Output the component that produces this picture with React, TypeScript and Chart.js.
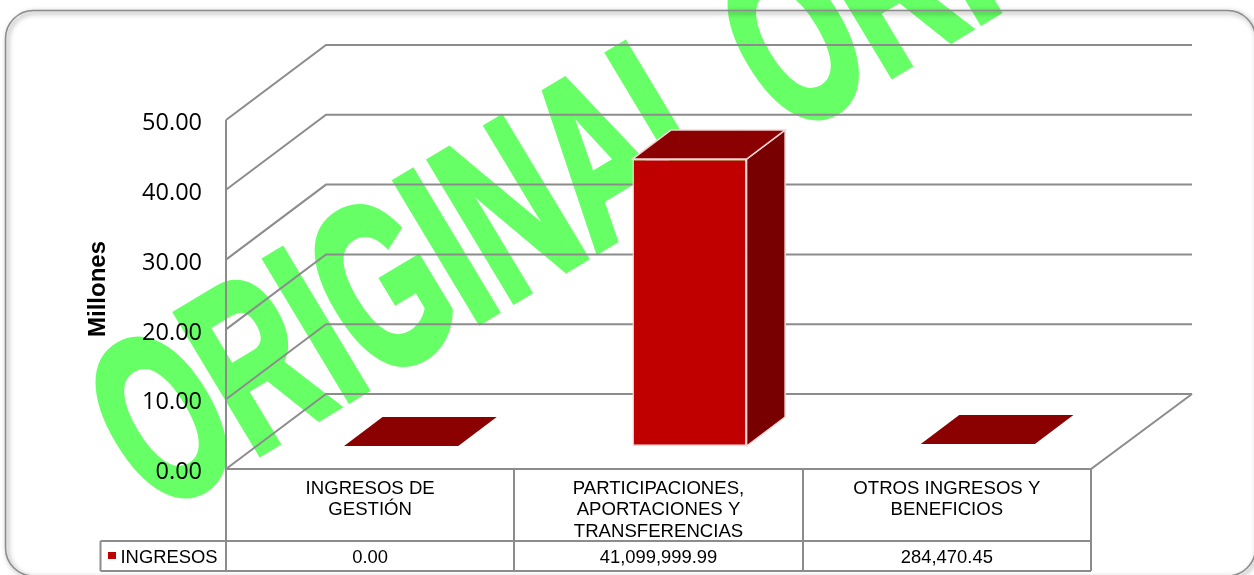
import React, { useEffect, useRef } from "react";
import { Chart, registerables } from "chart.js";

Chart.register(...registerables);

const categories = [
  ["INGRESOS DE", "GESTIÓN"],
  ["PARTICIPACIONES,", "APORTACIONES Y", "TRANSFERENCIAS"],
  ["OTROS INGRESOS Y", "BENEFICIOS"],
];
const seriesName = "INGRESOS";
const ingresosMillones = [0, 41.09999999, 0.28447045];
const tableValues = ["0.00", "41,099,999.99", "284,470.45"];
const axisTitle = "Millones";
const watermark = "ORIGINAL";

const GRID = "#8c8c8c";
const FRONT = "#c00000";
const TOP = "#8b0000";
const SIDE = "#780000";
const EDGE = "#f3d6d6";
const TEXT_FONT = '"Liberation Sans", Arial, sans-serif';

// floor depth of the 3D box, and offset of the bars inside that depth
const DEPTH_X = 100;
const DEPTH_Y = -75;
const BAR_SHIFT_X = 31;
const BAR_SHIFT_Y = -23;
const BAR_DEPTH_X = 38.5;
const BAR_DEPTH_Y = -29;

function poly(ctx: CanvasRenderingContext2D, pts: number[][], fill: string, stroke?: string) {
  ctx.beginPath();
  pts.forEach((p, i) => (i ? ctx.lineTo(p[0], p[1]) : ctx.moveTo(p[0], p[1])));
  ctx.closePath();
  ctx.fillStyle = fill;
  ctx.fill();
  if (stroke) {
    ctx.strokeStyle = stroke;
    ctx.lineWidth = 1.5;
    ctx.stroke();
  }
}

function drawWatermark(ctx: CanvasRenderingContext2D, x: number, y: number) {
  ctx.save();
  ctx.translate(x, y);
  ctx.rotate((-31 * Math.PI) / 180);
  ctx.scale(1, 1.64);
  ctx.font = `bold 144px ${TEXT_FONT}`;
  ctx.fillStyle = "#66ff66";
  ctx.strokeStyle = "#66ff66";
  ctx.lineWidth = 4.5;
  ctx.lineJoin = "miter";
  ctx.textAlign = "left";
  ctx.textBaseline = "alphabetic";
  ctx.fillText(watermark, 0, 0);
  ctx.strokeText(watermark, 0, 0);
  ctx.restore();
}

const backdrop = {
  id: "backdrop",
  beforeDraw(chart: any) {
    const ctx: CanvasRenderingContext2D = chart.ctx;
    ctx.save();
    ctx.fillStyle = "#fff";
    ctx.fillRect(0, 0, chart.width, chart.height);
    ctx.restore();
    drawWatermark(ctx, 155.5, 516);
    drawWatermark(ctx, 787.5, 138);

    // frame
    ctx.save();
    ctx.shadowColor = "rgba(0,0,0,0.55)";
    ctx.shadowBlur = 5;
    ctx.shadowOffsetX = 2;
    ctx.shadowOffsetY = 2;
    ctx.beginPath();
    ctx.roundRect(5.5, 10.5, 1250, 565.5, 28);
    ctx.strokeStyle = GRID;
    ctx.lineWidth = 1.5;
    ctx.stroke();
    ctx.restore();
  },
};

const box3d = {
  id: "box3d",
  beforeDatasetsDraw(chart: any) {
    const ctx: CanvasRenderingContext2D = chart.ctx;
    const { left, right, bottom } = chart.chartArea;
    const y = chart.scales.y;
    ctx.save();
    ctx.strokeStyle = GRID;
    ctx.lineWidth = 2;
    ctx.lineJoin = "miter";
    y.ticks.forEach((t: any) => {
      const py = y.getPixelForValue(t.value);
      ctx.beginPath();
      ctx.moveTo(left, py);
      ctx.lineTo(left + DEPTH_X, py + DEPTH_Y);
      ctx.lineTo(right + DEPTH_X + 1, py + DEPTH_Y);
      ctx.stroke();
    });
    // left wall edge, floor front and right edge
    ctx.beginPath();
    ctx.moveTo(left, y.getPixelForValue(y.max));
    ctx.lineTo(left, bottom);
    ctx.lineTo(right, bottom);
    ctx.lineTo(right + DEPTH_X + 1, bottom + DEPTH_Y);
    ctx.stroke();

    // bar side and top faces
    const meta = chart.getDatasetMeta(0);
    meta.data.forEach((bar: any, i: number) => {
      const x0 = bar.x - bar.width / 2 + BAR_SHIFT_X;
      const x1 = bar.x + bar.width / 2 + BAR_SHIFT_X;
      const t = bar.y + BAR_SHIFT_Y;
      const b = bar.base + BAR_SHIFT_Y;
      const tall = ingresosMillones[i] >= 1;
      if (tall) {
        poly(ctx, [[x1, t], [x1 + BAR_DEPTH_X, t + BAR_DEPTH_Y], [x1 + BAR_DEPTH_X, b + BAR_DEPTH_Y], [x1, b]], SIDE, EDGE);
      }
      poly(ctx, [[x0, t], [x1, t], [x1 + BAR_DEPTH_X, t + BAR_DEPTH_Y], [x0 + BAR_DEPTH_X, t + BAR_DEPTH_Y]], TOP, tall ? EDGE : undefined);
    });
    ctx.restore();
    ctx.save();
    ctx.translate(BAR_SHIFT_X, BAR_SHIFT_Y);
  },
  afterDatasetsDraw(chart: any) {
    chart.ctx.restore();
  },
  afterDraw(chart: any) {
    const ctx: CanvasRenderingContext2D = chart.ctx;
    const { left, right, bottom } = chart.chartArea;
    const x = chart.scales.x;
    const rowTop = 541;
    const rowBottom = 571;
    const legendLeft = 100.5;
    ctx.save();
    ctx.strokeStyle = GRID;
    ctx.lineWidth = 2;
    // vertical dividers of the data table
    const edges = [left];
    categories.forEach((_, i) => edges.push(x.getPixelForValue(i) + (right - left) / categories.length / 2));
    edges.forEach((ex) => {
      ctx.beginPath();
      ctx.moveTo(Math.round(ex), bottom);
      ctx.lineTo(Math.round(ex), rowBottom);
      ctx.stroke();
    });
    ctx.beginPath();
    ctx.moveTo(legendLeft, rowTop);
    ctx.lineTo(right, rowTop);
    ctx.moveTo(legendLeft, rowBottom);
    ctx.lineTo(right, rowBottom);
    ctx.moveTo(legendLeft, rowTop);
    ctx.lineTo(legendLeft, rowBottom);
    ctx.stroke();

    ctx.fillStyle = FRONT;
    ctx.fillRect(108, 552, 8, 7);
    ctx.fillStyle = "#000";
    ctx.font = `18.4px ${TEXT_FONT}`;
    ctx.textBaseline = "middle";
    ctx.textAlign = "left";
    ctx.fillText(seriesName, 120.5, 557.5);
    ctx.textAlign = "center";
    tableValues.forEach((v, i) => ctx.fillText(v, x.getPixelForValue(i), 557.5));

    // axis title
    ctx.translate(98, 289);
    ctx.rotate(-Math.PI / 2);
    ctx.font = `bold 24px ${TEXT_FONT}`;
    ctx.fillText(axisTitle, 0, 0);
    ctx.restore();
  },
};

export default function App() {
  const ref = useRef<HTMLCanvasElement>(null);
  useEffect(() => {
    document.body.style.margin = "0";
    const chart = new Chart(ref.current as HTMLCanvasElement, {
      type: "bar",
      data: {
        labels: categories as any,
        datasets: [
          {
            label: seriesName,
            data: ingresosMillones,
            backgroundColor: (c: any) => (c.raw >= 1 ? FRONT : "rgba(0,0,0,0)"),
            borderColor: (c: any) => (c.raw >= 1 ? EDGE : "rgba(0,0,0,0)"),
            borderWidth: 1.5,
            borderSkipped: false,
            categoryPercentage: 1,
            barPercentage: 0.396,
            clip: false as any,
          },
        ],
      },
      options: {
        animation: false,
        responsive: false,
        layout: { padding: { top: 120, right: 163, left: 0, bottom: 0 } },
        plugins: { legend: { display: false }, tooltip: { enabled: false } },
        scales: {
          x: {
            afterFit: (s: any) => {
              s.height = 106;
            },
            grid: { display: false, drawTicks: false },
            border: { display: false },
            ticks: {
              padding: 9,
              maxRotation: 0,
              color: "#000",
              font: { family: TEXT_FONT, size: 18.6, lineHeight: 1.156 },
            },
          },
          y: {
            min: 0,
            max: 50,
            afterFit: (s: any) => {
              s.width = 226;
            },
            grid: { display: false, drawTicks: false },
            border: { display: false },
            ticks: {
              stepSize: 10,
              padding: 24,
              labelOffset: 3.5,
              color: "#000",
              font: { family: '"Open Sans", sans-serif', size: 23.5 },
              callback: (v: any) => Number(v).toFixed(2),
            },
          },
        },
      },
      plugins: [backdrop, box3d],
    });
    return () => chart.destroy();
  }, []);
  return <canvas ref={ref} width={1254} height={575} style={{ display: "block", width: 1254, height: 575 }} />;
}
